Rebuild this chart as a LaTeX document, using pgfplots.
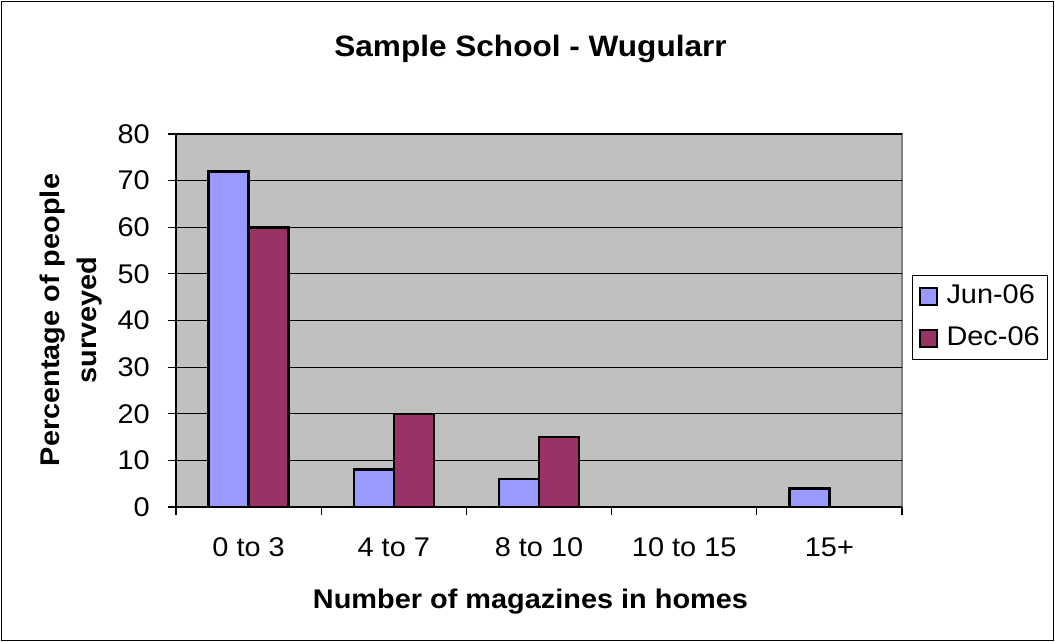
\documentclass[border=0pt]{standalone}
\usepackage{fontspec}
\setmainfont{Liberation Sans}[FakeStretch=1.07]
\usepackage{pgfplots}
\pgfplotsset{compat=1.18}
\definecolor{junc}{HTML}{9999FF}
\definecolor{decc}{HTML}{993366}
\definecolor{plotbg}{HTML}{C0C0C0}
\definecolor{framegray}{HTML}{808080}
\newcommand{\lblfont}{\fontsize{27bp}{32bp}\selectfont}
\begin{document}
\begin{tikzpicture}
\useasboundingbox (0,0) rectangle (1055bp,-642bp);
\draw[black, line width=1bp] (1.5bp,-1.5bp) rectangle (1053.5bp,-640.5bp);
\begin{axis}[
  at={(176bp,-507bp)}, anchor=south west,
  scale only axis, width=726bp, height=373bp,
  xmin=-0.5, xmax=4.5, ymin=0, ymax=80,
  ybar=0pt, bar width=40bp,
  axis background/.style={fill=plotbg, draw=framegray, line width=1.5bp},
  axis x line*=bottom, axis y line*=left,
  axis line style={black, line width=1.2bp},
  ytick={0,10,...,80},
  ymajorgrids, major grid style={black, line width=1.2bp},
  y tick style={black, line width=1.2bp},
  x tick style={black, line width=1.2bp},
  tick align=outside, major tick length=8bp,
  xtick={-0.5,0.5,...,4.5}, xticklabels={},
  extra x ticks={0,1,2,3,4},
  extra x tick labels={0 to 3,4 to 7,8 to 10,10 to 15,15+},
  extra x tick style={major tick length=0pt, grid=none},
  tick label style={font=\lblfont},
  /pgf/number format/assume math mode=true,
  xticklabel style={anchor=base, yshift=-49.5bp, inner sep=0pt},
  yticklabel style={anchor=east, inner sep=0pt, xshift=-18bp},
  legend style={at={(1.0138,0.508)}, anchor=west, draw=black, line width=1bp,
    fill=white, font=\lblfont, inner xsep=6bp, inner ysep=7bp, row sep=14bp,
    nodes={text height=19bp, text depth=5bp, inner ysep=2bp},
    /tikz/every odd column/.append style={column sep=7bp}},
  legend cell align=left,
  mylegend/.style={legend image code/.code={\draw[##1, line width=2bp] (0bp,-8.5bp) rectangle (17bp,8.5bp);}},
]
\addplot+[fill=junc, draw=black, line width=2.5bp, mylegend] coordinates {(0,72) (1,8) (2,6) (3,0) (4,4)};
\addplot+[fill=decc, draw=black, line width=2.5bp, mylegend] coordinates {(0,60) (1,20) (2,15) (3,0) (4,0)};
\legend{Jun-06,Dec-06}
\end{axis}
\node[anchor=base, font=\fontsize{29.5bp}{35bp}\selectfont\bfseries] at (530.5bp,-56.7bp) {Sample School - Wugularr};
\node[anchor=base, font=\lblfont\bfseries] at (530.5bp,-608bp) {Number of magazines in homes};
\node[rotate=90, align=center, font=\fontsize{27bp}{37bp}\selectfont\bfseries] at (71bp,-320bp) {Percentage of people\\surveyed};
\end{tikzpicture}
\end{document}
